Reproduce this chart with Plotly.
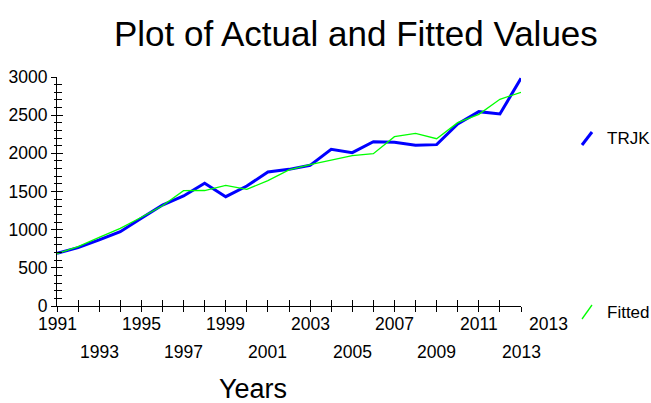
import plotly.graph_objects as go

# ---- data ----
years = list(range(1991, 2014))
trjk = [690, 764, 865, 974, 1149, 1323, 1441, 1607, 1432, 1572, 1755, 1790, 1843,
        2053, 2009, 2153, 2144, 2105, 2114, 2384, 2546, 2515, 2983]
fitted = [685, 777, 900, 1018, 1162, 1314, 1511, 1513, 1581, 1529, 1642, 1782, 1852,
          1913, 1970, 1996, 2218, 2262, 2192, 2402, 2511, 2708, 2800]
xlabels_row1 = [1991, 1995, 1999, 2003, 2007, 2011]
xlabels_row2 = [1993, 1997, 2001, 2005, 2009, 2013]
extra_label = 2013
series_names = ["TRJK", "Fitted"]
title_text = "Plot of Actual and Fitted Values"
xtitle = "Years"

# ---- layout constants ----
W, H = 651, 403
ML, MR, MT, MB = 57, 130, 77, 97
PW, PH = W - ML - MR, H - MT - MB
FONT = "Liberation Sans, Arial, sans-serif"
TICKSIZE = 17.5

def px(xp):
    return (xp - ML) / PW

def py(yp):
    return (H - MB - yp) / PH

fig = go.Figure()
fig.add_trace(go.Scatter(x=years, y=trjk, mode="lines", name=series_names[0],
                         line=dict(color="#0000ff", width=3), showlegend=False))
fig.add_trace(go.Scatter(x=years, y=fitted, mode="lines", name=series_names[1],
                         line=dict(color="#00ff00", width=1.3), showlegend=False))
# helper trace to realise overlay axes (crossing ticks)
fig.add_trace(go.Scatter(x=[], y=[], xaxis="x2", yaxis="y2", showlegend=False,
                         hoverinfo="skip"))

common = dict(showgrid=False, zeroline=False, linecolor="black", tickcolor="black",
              automargin=False)
fig.update_layout(
    width=W, height=H,
    margin=dict(l=ML, r=MR, t=MT, b=MB, pad=0, autoexpand=False),
    paper_bgcolor="white", plot_bgcolor="white",
    font=dict(family=FONT, size=TICKSIZE, color="black"),
    xaxis=dict(range=[years[0], years[-1]], showline=True, linewidth=1,
               ticks="outside", ticklen=5, tick0=years[0], dtick=1,
               showticklabels=False, **common),
    yaxis=dict(range=[0, 3000], showline=True, linewidth=1,
               ticks="outside", ticklen=5, dtick=500, tick0=0,
               minor=dict(ticks="outside", ticklen=2, dtick=100, tickcolor="black"),
               tickfont=dict(family=FONT, size=TICKSIZE), ticklabelstandoff=0,
               **common),
    xaxis2=dict(range=[years[0], years[-1]], overlaying="x", anchor="y2",
                ticks="inside", ticklen=6, tick0=years[0], dtick=1,
                showticklabels=False, showline=False, **common),
    yaxis2=dict(range=[0, 3000], overlaying="y", anchor="x2", side="left",
                ticks="inside", ticklen=6, dtick=500, tick0=0,
                minor=dict(ticks="inside", ticklen=5, dtick=100, tickcolor="black"),
                showticklabels=False, showline=False, **common),
    showlegend=False,
)

ann = []
ann.append(dict(text=title_text, xref="paper", yref="paper", x=px(356), y=py(33),
                xanchor="center", yanchor="middle", showarrow=False,
                font=dict(family=FONT, size=35)))
ann.append(dict(text=xtitle, xref="paper", yref="paper", x=px(253), y=py(389),
                xanchor="center", yanchor="middle", showarrow=False,
                font=dict(family=FONT, size=27)))
for yr in xlabels_row1:
    ann.append(dict(text=str(yr), xref="x", yref="paper", x=yr, y=0, yshift=-18,
                    xanchor="center", yanchor="middle", showarrow=False,
                    font=dict(family=FONT, size=TICKSIZE)))
for yr in xlabels_row2:
    ann.append(dict(text=str(yr), xref="x", yref="paper", x=yr, y=0, yshift=-46,
                    xanchor="center", yanchor="middle", showarrow=False,
                    font=dict(family=FONT, size=TICKSIZE)))
ann.append(dict(text=str(extra_label), xref="x", yref="paper", x=years[-1], y=0,
                xshift=27, yshift=-18, xanchor="center", yanchor="middle",
                showarrow=False, font=dict(family=FONT, size=TICKSIZE)))
# legend texts
ann.append(dict(text=series_names[0], xref="paper", yref="paper", x=px(605), y=py(138),
                xanchor="left", yanchor="middle", showarrow=False,
                font=dict(family=FONT, size=17)))
ann.append(dict(text=series_names[1], xref="paper", yref="paper", x=px(605), y=py(312),
                xanchor="left", yanchor="middle", showarrow=False,
                font=dict(family=FONT, size=17)))
fig.update_layout(annotations=ann)

shapes = [
    dict(type="line", xref="paper", yref="paper", x0=px(582), y0=py(145), x1=px(592), y1=py(132),
         line=dict(color="#0000ff", width=3)),
    dict(type="line", xref="paper", yref="paper", x0=px(582), y0=py(319), x1=px(592), y1=py(305),
         line=dict(color="#00ff00", width=1.3)),
]
fig.update_layout(shapes=shapes)

fig.write_html("out.html", config={"displayModeBar": False},
               post_script="document.body.style.margin='0';document.body.style.overflow='hidden';")
